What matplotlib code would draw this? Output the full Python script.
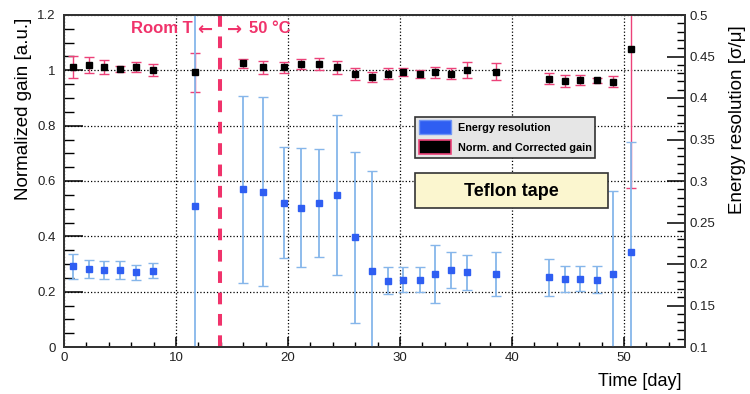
import matplotlib
matplotlib.use("Agg")
import matplotlib.pyplot as plt
from matplotlib.patches import Patch, Rectangle
from matplotlib.ticker import MultipleLocator, FormatStrFormatter

plt.rcParams['font.family'] = ['Liberation Sans', 'DejaVu Sans']

# measurement days (shared by both series)
days = [0.83, 2.26, 3.6, 5.0, 6.43, 7.92, 11.7, 16.0, 17.8, 19.6, 21.2, 22.8, 24.35, 26.0,
        27.5, 28.9, 30.3, 31.8, 33.1, 34.6, 36.0, 38.6, 43.3, 44.7, 46.1, 47.6, 49.0, 50.6]

# normalized and corrected gain [a.u.]
gain = [1.013, 1.019, 1.013, 1.005, 1.013, 1.001, 0.993, 1.025, 1.011, 1.011, 1.023, 1.023,
        1.011, 0.987, 0.975, 0.987, 0.993, 0.987, 0.993, 0.987, 1.001, 0.995, 0.970, 0.961,
        0.965, 0.964, 0.958, 1.076]
gain_err = [0.040, 0.030, 0.025, 0.010, 0.018, 0.023, 0.070, 0.016, 0.024, 0.020, 0.018, 0.020,
            0.023, 0.021, 0.018, 0.020, 0.014, 0.016, 0.020, 0.020, 0.028, 0.030, 0.021, 0.021,
            0.017, 0.008, 0.020, 0.500]

# energy resolution [sigma/mu]
eres = [0.197, 0.194, 0.193, 0.193, 0.190, 0.192, 0.270, 0.290, 0.287, 0.274, 0.268, 0.274,
        0.283, 0.232, 0.192, 0.180, 0.181, 0.181, 0.188, 0.193, 0.190, 0.188, 0.184, 0.182,
        0.182, 0.181, 0.188, 0.214]
eres_err = [0.015, 0.011, 0.011, 0.011, 0.009, 0.009, 0.250, 0.113, 0.114, 0.067, 0.072, 0.065,
            0.096, 0.103, 0.120, 0.016, 0.015, 0.015, 0.035, 0.022, 0.021, 0.026, 0.022, 0.016,
            0.015, 0.016, 0.100, 0.133]

switch_day = 13.9

PINK = '#ec4279'
RED = '#f0336b'
BLUE = '#2f5ef2'
LIGHTBLUE = '#86b6ea'

fig = plt.figure(figsize=(7.5, 3.94), dpi=100)
ax = fig.add_axes([64 / 750, 47 / 394, 621 / 750, 332 / 394])
ax2 = ax.twinx()

ax.set_xlim(0, 55.45)
ax.set_ylim(0, 1.2)
ax2.set_ylim(0.1, 0.5)

ax.grid(True, which='major', ls=':', color='black', lw=0.9)
ax.set_axisbelow(True)

ax.axvline(switch_day, color=RED, lw=2.9, ls=(0, (2.9, 2.4)), zorder=1)

# error bars first, then markers on top
ax.errorbar(days, gain, yerr=gain_err, fmt='none', ecolor=PINK, elinewidth=1.0,
            capsize=3.5, capthick=1.0)
ax2.errorbar(days, eres, yerr=eres_err, fmt='none', ecolor=LIGHTBLUE, elinewidth=1.3,
             capsize=3.5, capthick=1.0)
ax2.plot(days, eres, 's', color=BLUE, ms=4.5, mec=BLUE)
ax2.plot(days, gain, 's', color='black', ms=4.5, transform=ax.transData)

# temperature change annotation
label_y = 1.134
ax.text(11.45, label_y, 'Room T', ha='right', va='baseline', color=RED,
        fontsize=12, fontweight='bold')
ax.text(12.6, label_y - 0.006, '\u2190', ha='center', va='baseline', color=RED,
        fontsize=13, fontweight='bold', family='DejaVu Sans')
ax.text(15.25, label_y - 0.006, '\u2192', ha='center', va='baseline', color=RED,
        fontsize=13, fontweight='bold', family='DejaVu Sans')
ax.text(16.5, label_y, '50 \u00b0C', ha='left', va='baseline', color=RED,
        fontsize=12, fontweight='bold')

# ticks
ax.xaxis.set_major_locator(MultipleLocator(10))
ax.xaxis.set_minor_locator(MultipleLocator(2))
ax.yaxis.set_major_locator(MultipleLocator(0.2))
ax.yaxis.set_minor_locator(MultipleLocator(0.05))
ax2.yaxis.set_major_locator(MultipleLocator(0.05))
ax2.yaxis.set_minor_locator(MultipleLocator(0.01))
for a in (ax.xaxis, ax.yaxis, ax2.yaxis):
    a.set_major_formatter(FormatStrFormatter('%g'))

ax.tick_params(axis='y', which='major', direction='in', length=13.7, width=1.1, pad=6,
               labelsize=9.5, labelcolor='#222')
ax.tick_params(axis='y', which='minor', direction='in', length=7, width=1.0)
ax.tick_params(axis='x', which='major', direction='in', length=7, width=1.1, pad=3.5,
               labelsize=9.5, labelcolor='#222')
ax.tick_params(axis='x', which='minor', direction='in', length=3.6, width=1.0)
ax2.tick_params(axis='y', which='major', direction='in', length=13, width=1.1, pad=3,
                labelsize=9.5, labelcolor='#222')
ax2.tick_params(axis='y', which='minor', direction='in', length=5.8, width=1.0)

for a in (ax, ax2):
    for s in a.spines.values():
        s.set_linewidth(1.3)
        s.set_color('#333333')

fig.text(24 / 750, 1 - 18 / 394, 'Normalized gain [a.u.]', rotation=90, ha='center',
         va='top', fontsize=13.5)
fig.text(738 / 750, 1 - 25 / 394, 'Energy resolution [\u03c3/\u03bc]', rotation=90,
         ha='center', va='top', fontsize=13.5)
fig.text(681 / 750, 1 - 381.7 / 394, 'Time [day]', ha='right', va='center', fontsize=13)

handles = [Patch(facecolor=BLUE, edgecolor='#6f95f5', lw=1.0),
           Patch(facecolor='black', edgecolor=PINK, lw=1.2)]
leg = ax2.legend(handles, ['Energy resolution', 'Norm. and Corrected gain'],
                 loc='upper left', bbox_to_anchor=(415 / 750, 1 - 116.7 / 394),
                 bbox_transform=fig.transFigure, borderaxespad=0,
                 prop={'weight': 'bold', 'size': 7.8}, fancybox=False, framealpha=1,
                 facecolor='#e6e6e6', edgecolor='#333333', handlelength=3.0,
                 handleheight=1.6, handletextpad=0.6, labelspacing=0.55, borderpad=0.35)
leg.get_frame().set_linewidth(1.2)

fig.patches.append(Rectangle((415 / 750, 1 - 207.7 / 394), 193 / 750, 34.4 / 394,
                             transform=fig.transFigure, facecolor='#fbf6cf',
                             edgecolor='#333333', lw=1.2))
fig.text(511 / 750, 1 - 191 / 394, 'Teflon tape', ha='center', va='center',
         fontsize=13, fontweight='bold')

fig.savefig('out.png', dpi=100)
plt.close(fig)
